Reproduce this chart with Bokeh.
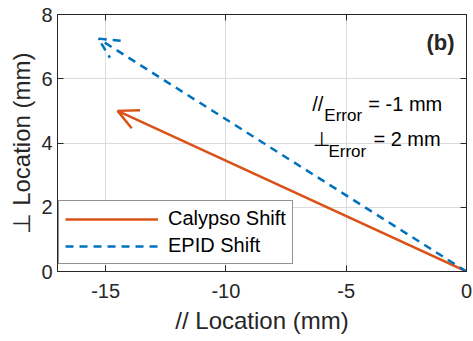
from bokeh.plotting import figure
from bokeh.models import (Range1d, LinearAxis, Legend, LegendItem, Arrow, OpenHead,
                          ColumnDataSource, FixedTicker, Label)
from bokeh.embed import file_html
from bokeh.resources import INLINE

# ---- data ----
series_names = ["Calypso Shift", "EPID Shift"]
start_par = [0.0, 0.0]
start_perp = [0.0, 0.0]
end_par = [-14.5, -15.3]
end_perp = [5.0, 7.25]
colors = ["#D95319", "#0072BD"]
dashes = ["solid", "8 6"]
x_ticks = [-15, -10, -5, 0]
y_ticks = [0, 2, 4, 6, 8]
par_error = -1
perp_error = 2

FONT = "Liberation Sans"

p = figure(width=473, height=341, output_backend="svg", toolbar_location=None,
           x_range=Range1d(-17, 0), y_range=Range1d(0, 8),
           min_border_left=57, min_border_right=7, min_border_top=14, min_border_bottom=70)
p.background_fill_color = "white"
p.border_fill_color = "white"
p.outline_line_color = "#262626"
p.outline_line_width = 1

for ax in (p.xaxis[0], p.yaxis[0]):
    ax.major_tick_in = 6
    ax.major_tick_out = 0
    ax.minor_tick_line_color = None
    ax.axis_line_color = "#262626"
    ax.major_tick_line_color = "#262626"
    ax.major_label_text_font = FONT
    ax.major_label_text_font_size = "20px"
    ax.major_label_text_color = "#262626"
    ax.axis_label_text_font = FONT
    ax.axis_label_text_font_size = "24px"
    ax.axis_label_text_font_style = "normal"
    ax.axis_label_text_color = "#262626"

p.xaxis[0].ticker = FixedTicker(ticks=x_ticks)
p.yaxis[0].ticker = FixedTicker(ticks=y_ticks)
p.xaxis[0].major_label_overrides = {t: str(t) for t in x_ticks}
p.yaxis[0].major_label_overrides = {t: str(t) for t in y_ticks}
p.xaxis[0].axis_label = "// Location (mm)"
p.yaxis[0].axis_label = "\u22a5 Location (mm)"
p.xaxis[0].major_label_standoff = 12
p.yaxis[0].major_label_standoff = 5
p.xaxis[0].axis_label_standoff = 6
p.yaxis[0].axis_label_standoff = 3

for loc, tks in (("above", x_ticks), ("right", y_ticks)):
    ax = LinearAxis(ticker=FixedTicker(ticks=tks), major_tick_in=6, major_tick_out=0,
                    minor_tick_line_color=None, axis_line_color="#262626",
                    major_tick_line_color="#262626",
                    major_label_overrides={t: "" for t in tks},
                    major_label_text_font_size="1px", major_label_standoff=0)
    p.add_layout(ax, loc)

p.xgrid.ticker = FixedTicker(ticks=x_ticks)
p.ygrid.ticker = FixedTicker(ticks=y_ticks)
p.grid.grid_line_color = "#dcdcdc"
p.grid.grid_line_width = 1

items = []
for i, name in enumerate(series_names):
    r = p.line([start_par[i], end_par[i]], [start_perp[i], end_perp[i]],
               line_color=colors[i], line_width=2.5, line_dash=dashes[i])
    items.append(LegendItem(label=name, renderers=[r]))
    src = ColumnDataSource(dict(x0=[start_par[i]], y0=[start_perp[i]],
                                x1=[end_par[i]], y1=[end_perp[i]]))
    head = OpenHead(size=20, line_color=colors[i], line_width=2.5, line_dash=dashes[i])
    p.add_layout(Arrow(end=head, x_start="x0", y_start="y0", x_end="x1", y_end="y1",
                       source=src, line_alpha=0))

legend = Legend(items=items, location=(1, 7), margin=0, padding=6, spacing=4,
                glyph_width=93, glyph_height=20, label_height=20, label_standoff=10,
                label_text_font=FONT, label_text_font_size="20px", label_text_color="black",
                border_line_color="#262626", border_line_width=1,
                background_fill_color="white", background_fill_alpha=1)
p.add_layout(legend)

# annotation text
p.add_layout(Label(x=-0.5, y=7.12, text="(b)", text_font=FONT, text_font_size="22px",
                   text_font_style="bold", text_align="right", text_baseline="middle",
                   text_color="#262626"))

def add_txt(x, y, t, size):
    p.add_layout(Label(x=x, y=y, text=t, text_font=FONT, text_font_size=size,
                       text_align="left", text_baseline="middle", text_color="black"))

add_txt(-6.41, 5.22, "//", "20px")
add_txt(-5.91, 4.85, "Error", "17px")
add_txt(-4.08, 5.2, f"= {par_error} mm", "20px")
add_txt(-6.36, 4.14, "\u22a5", "20px")
add_txt(-5.74, 3.74, "Error", "17px")
add_txt(-3.87, 4.14, f"= {perp_error} mm", "20px")

open("out.html", "w").write(file_html(p, INLINE))
